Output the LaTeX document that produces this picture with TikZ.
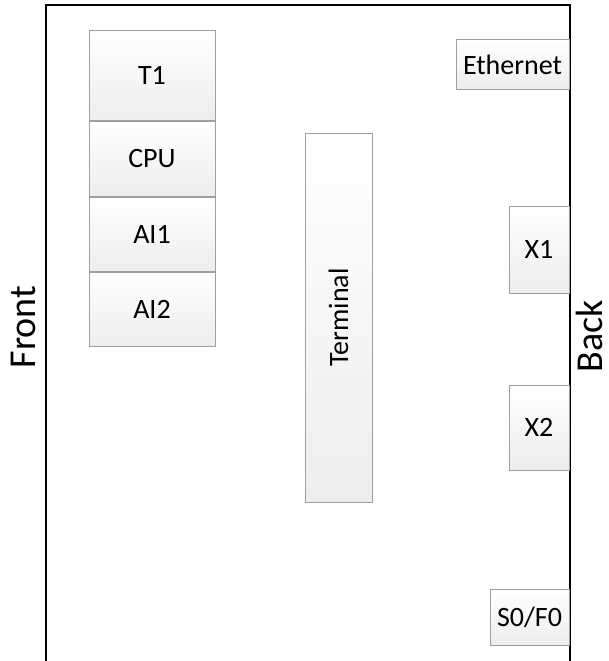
\documentclass[tikz,border=0pt]{standalone}
\usepackage{fontspec}
\setmainfont{Carlito}
\usetikzlibrary{positioning,shadows}

\tikzset{
  card/.style={draw=gray!75, line width=1pt, top color=white, bottom color=gray!14,
    drop shadow={shadow xshift=1.2pt, shadow yshift=-1.2pt, opacity=0.25},
    inner sep=0pt, font=\fontsize{28}{32}\selectfont, text=black},
  side/.style={rotate=90, inner sep=0pt, font=\fontsize{38}{44}\selectfont}
}

\begin{document}
\begin{tikzpicture}[x=1pt, y=-1pt]
  \useasboundingbox (0,0) rectangle (608,661);

  % housing, open at the bottom
  \draw[black, line width=2.5pt] (46,661) -- (46,5) -- (570,5) -- (570,661);

  % module stack on the front side
  \node[card, minimum width=126pt, minimum height=89pt] (t1) at (152,75.5) {T1};
  \node[card, minimum width=126pt, minimum height=75pt, below=0pt of t1] (cpu) {CPU};
  \node[card, minimum width=126pt, minimum height=74pt, below=0pt of cpu] (ai1) {AI1};
  \node[card, minimum width=126pt, minimum height=74pt, below=0pt of ai1] (ai2) {AI2};

  % terminal strip
  \node[card, minimum width=67pt, minimum height=369pt] (term) at (338.5,317.5) {};
  \node[rotate=90, font=\fontsize{28}{32}\selectfont] (termtxt) at (term.center) {Terminal};

  % connectors on the back side
  \node[card, minimum width=113pt, minimum height=49pt] (eth) at (512.5,64.5) {Ethernet};
  \node[card, minimum width=60pt, minimum height=87pt] (x1) at (539,249.5) {X1};
  \node[card, minimum width=60pt, minimum height=85pt] (x2) at (539,427.5) {X2};
  \node[card, minimum width=79pt, minimum height=56pt] (sf) at (529.5,617) {S0/F0};

  % side labels
  \node[side] (front) at (23,327) {Front};
  \node[side] (back) at (589,336) {Back};
\end{tikzpicture}
\end{document}
